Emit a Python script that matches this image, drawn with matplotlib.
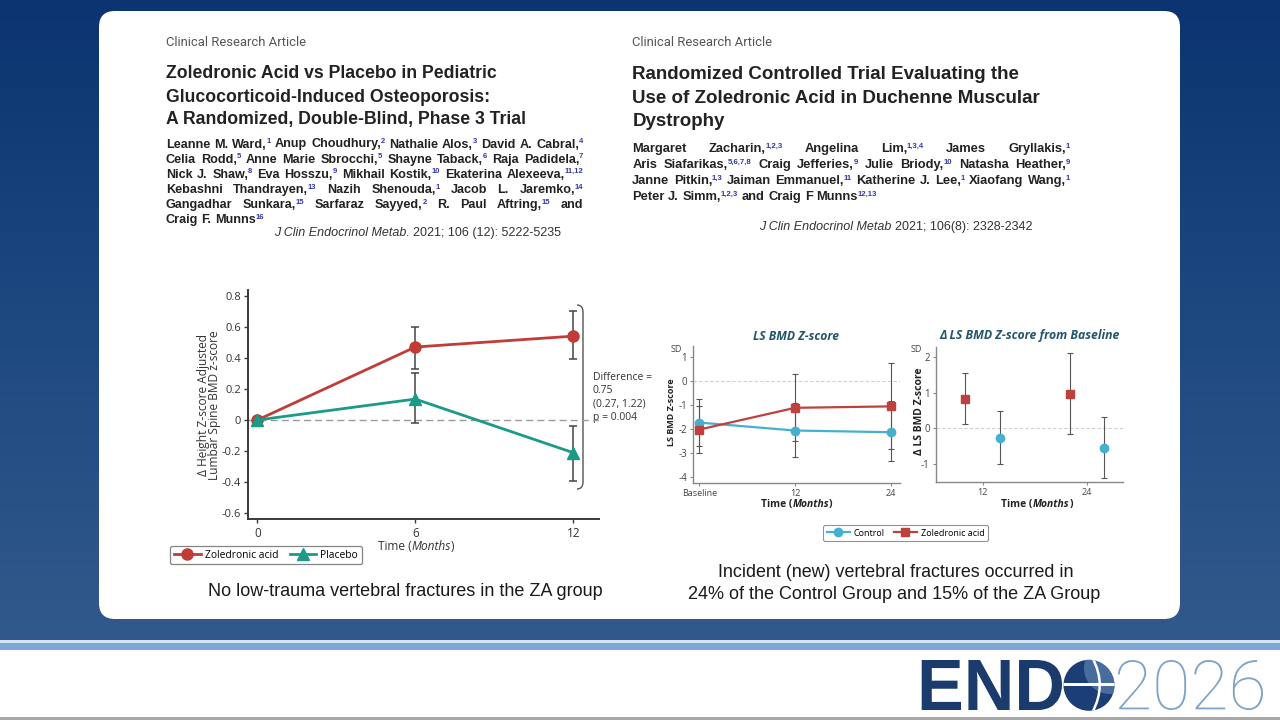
import numpy as np
import matplotlib
matplotlib.use('Agg')
import matplotlib.pyplot as plt
from matplotlib.patches import FancyBboxPatch, Circle, PathPatch, Rectangle
from matplotlib.path import Path
from matplotlib.textpath import TextPath
from matplotlib.font_manager import FontProperties
from matplotlib.transforms import Affine2D
from matplotlib.colors import LinearSegmentedColormap

plt.rcParams['font.family'] = ['Open Sans', 'DejaVu Sans']
plt.rcParams['axes.unicode_minus'] = False

# ---- Ward 2021 (left): change in height-adjusted LS BMD z-score ----
ward_months = np.array([0, 6, 12])
ward_za = np.array([0.0, 0.47, 0.54])
ward_za_lo = np.array([np.nan, 0.33, 0.39])
ward_za_hi = np.array([np.nan, 0.60, 0.70])
ward_pl = np.array([0.0, 0.135, -0.21])
ward_pl_lo = np.array([np.nan, -0.02, -0.39])
ward_pl_hi = np.array([np.nan, 0.30, -0.04])
ward_yticks = [-0.6, -0.4, -0.2, 0, 0.2, 0.4, 0.6, 0.8]
ward_yticklabels = ['-0.6', '-0.4', '-0.2', '0', '0.2', '0.4', '0.6', '0.8']
ward_diff = ['Difference =', '0.75', '(0.27, 1.22)', 'p = 0.004']

# ---- Zacharin 2021 (right): LS BMD z-score ----
z_months = np.array([0, 12, 24])
z_xticklabels = ['Baseline', '12', '24']
z_ctrl = np.array([-1.73, -2.06, -2.13])
z_ctrl_lo = np.array([-2.72, -3.15, -3.32])
z_ctrl_hi = np.array([-0.75, -0.94, -0.84])
z_za = np.array([-2.02, -1.12, -1.06])
z_za_lo = np.array([-3.01, -2.50, -2.82])
z_za_hi = np.array([-1.03, 0.30, 0.72])

# change from baseline
d_months = np.array([12, 24])
d_ctrl = np.array([-0.28, -0.56])
d_ctrl_lo = np.array([-1.00, -1.40])
d_ctrl_hi = np.array([0.47, 0.32])
d_za = np.array([0.81, 0.96])
d_za_lo = np.array([0.13, -0.17])
d_za_hi = np.array([1.54, 2.10])

ward_title = ['Zoledronic Acid vs Placebo in Pediatric',
              'Glucocorticoid-Induced Osteoporosis:',
              'A Randomized, Double-Blind, Phase 3 Trial']
ward_authors = [
    'Leanne M. Ward,^1 Anup Choudhury,^2 Nathalie Alos,^3 David A. Cabral,^4',
    'Celia Rodd,^5 Anne Marie Sbrocchi,^5 Shayne Taback,^6 Raja Padidela,^7',
    'Nick J. Shaw,^8 Eva Hosszu,^9 Mikhail Kostik,^10 Ekaterina Alexeeva,^11,12',
    'Kebashni Thandrayen,^13 Nazih Shenouda,^1 Jacob L. Jaremko,^14',
    'Gangadhar Sunkara,^15 Sarfaraz Sayyed,^2 R. Paul Aftring,^15 and',
    'Craig F. Munns^16',
]
zach_title = ['Randomized Controlled Trial Evaluating the',
              'Use of Zoledronic Acid in Duchenne Muscular',
              'Dystrophy']
zach_authors = [
    'Margaret Zacharin,^1,2,3 Angelina Lim,^1,3,4 James Gryllakis,^1',
    'Aris Siafarikas,^5,6,7,8 Craig Jefferies,^9 Julie Briody,^10 Natasha Heather,^9',
    'Janne Pitkin,^1,3 Jaiman Emmanuel,^11 Katherine J. Lee,^1 Xiaofang Wang,^1',
    'Peter J. Simm,^1,2,3 and Craig F Munns^12,13',
]

RED = '#c23c37'
TEAL = '#1b9a88'
CYAN = '#45b1cf'
RED2 = '#bf413d'
INK = '#333333'
HEAD = 'Liberation Sans'

fig = plt.figure(figsize=(12.8, 7.2), dpi=100)
renderer = fig.canvas.get_renderer()

# full-figure axes in pixel coordinates (y down)
bg = fig.add_axes([0, 0, 1, 1])
bg.axis('off')
cmap = LinearSegmentedColormap.from_list('slide', ['#0b3470', '#1d4880', '#32598b'])
bg.imshow(np.linspace(0, 1, 256)[:, None], extent=[0, 1280, 640, 0], cmap=cmap,
          aspect='auto', zorder=0)
bg.set_xlim(0, 1280)
bg.set_ylim(720, 0)
bg.add_patch(Rectangle((0, 640), 1280, 3, fc='#d5e5f3', ec='none', zorder=1))
bg.add_patch(Rectangle((0, 643), 1280, 7, fc='#7fa7d3', ec='none', zorder=1))
bg.add_patch(Rectangle((0, 650), 1280, 67, fc='white', ec='none', zorder=1))
bg.add_patch(Rectangle((0, 717), 1280, 3, fc='#a8a8a8', ec='none', zorder=1))
bg.add_patch(FancyBboxPatch((99, 11), 1081, 608, boxstyle='round,pad=0,rounding_size=16',
                            fc='white', ec='none', zorder=1))


def measure(s, **kw):
    t = bg.text(0, 0, s, **kw)
    w = t.get_window_extent(renderer).width
    t.remove()
    return w


def fit_size(s, width, **kw):
    return 10 * width / measure(s, fontsize=10, **kw)


def rich(x, y, pieces, size, ha='left', width=None, **common):
    # pieces: (text, extra kwargs); leading spaces become measured gaps
    sp = measure('a a', fontsize=size, **common) - measure('aa', fontsize=size, **common)
    items = []
    for s, kw in pieces:
        lead = len(s) - len(s.lstrip(' '))
        s = s.lstrip(' ')
        items.append((s, kw, lead * sp, measure(s, fontsize=size, **common, **kw)))
    total = sum(g + w for _, _, g, w in items)
    scale = width / total if width else 1.0
    size *= scale
    total *= scale
    x0 = x - total / 2 if ha == 'center' else x
    for s, kw, g, w in items:
        x0 += g * scale
        bg.text(x0, y, s, fontsize=size, va='baseline', ha='left', zorder=3, **common, **kw)
        x0 += w * scale


def authors(x0, x1, baselines, lines):
    akw = dict(family=HEAD, weight='bold')
    sup_ratio = 0.6

    def split(line, size):
        out = []
        for word in line.split(' '):
            name, _, sup = word.partition('^')
            wn = measure(name, fontsize=size, **akw)
            ws = measure(sup, fontsize=size * sup_ratio, **akw) if sup else 0
            out.append((name, sup, wn, ws))
        return out

    # font size chosen so the fullest justified line fits with plain spaces
    sp10 = measure('a a', fontsize=10, **akw) - measure('aa', fontsize=10, **akw)
    need = []
    for line in lines[:-1]:
        it = split(line, 10)
        need.append(sum(a[2] + a[3] for a in it) + sp10 * (len(it) - 1))
    size = 10 * (x1 - x0) / max(need) * 0.995
    sp = sp10 * size / 10
    for i, (line, y) in enumerate(zip(lines, baselines)):
        items = split(line, size)
        total = sum(a[2] + a[3] for a in items)
        last = i == len(lines) - 1
        gap = sp if last else (x1 - x0 - total) / (len(items) - 1)
        x = x0
        for name, sup, wn, ws in items:
            bg.text(x, y, name, fontsize=size, color='#222222', va='baseline', zorder=3, **akw)
            if sup:
                bg.text(x + wn - 0.3, y - size * 0.5, sup, fontsize=size * sup_ratio,
                        color='#3535a8', va='baseline', zorder=3, **akw)
            x += wn + ws + gap


def fitted_path(s, x0, x1, ytop, ybot, fp, color):
    p = TextPath((0, 0), s, size=100, prop=fp)
    e = p.get_extents()
    tr = (Affine2D().translate(-e.x0, -e.y0)
          .scale((x1 - x0) / e.width, -(ybot - ytop) / e.height)
          .translate(x0, ybot) + bg.transData)
    bg.add_patch(PathPatch(p, transform=tr, fc=color, ec='none', zorder=3))


# ---------------- headers ----------------
for x0 in (165.5, 632.3):
    s = fit_size('Clinical Research Article', 139, family='Roboto')
    bg.text(x0, 45.7, 'Clinical Research Article', fontsize=s, family='Roboto',
            color='#555555', va='baseline', zorder=3)

ts = fit_size(ward_title[0], 330, family=HEAD, weight='bold')
for line, y in zip(ward_title, [78.3, 101.5, 124.3]):
    bg.text(165.5, y, line, fontsize=ts, family=HEAD, weight='bold', color='#222222',
            va='baseline', zorder=3)
ts = fit_size(zach_title[0], 388, family=HEAD, weight='bold')
for line, y in zip(zach_title, [79.3, 102.6, 126.0]):
    bg.text(632.3, y, line, fontsize=ts, family=HEAD, weight='bold', color='#222222',
            va='baseline', zorder=3)

authors(165.7, 583.3, [147.5, 162.7, 177.9, 193.1, 208.3, 223.4], ward_authors)
authors(632.3, 1070.0, [152.3, 168.3, 184.3, 200.0], zach_authors)

rich(274, 235.7, [('J Clin Endocrinol Metab.', dict(style='italic')),
                  (' 2021; 106 (12): 5222-5235', {})], 9, width=287, family=HEAD, color=INK)
rich(759.3, 230.0, [('J Clin Endocrinol Metab', dict(style='italic')),
                    (' 2021; 106(8): 2328-2342', {})], 9, width=274, family=HEAD, color=INK)

# ---------------- left chart ----------------
ax1 = fig.add_axes([247.7 / 1280, 1 - 518.7 / 720, 351.6 / 1280, 228.7 / 720], zorder=2)
ax1.patch.set_alpha(0)
ax1.axhline(0, color='#9a9a9a', ls=(0, (5, 3)), lw=1, zorder=1)
for v, lo, hi in [(ward_za, ward_za_lo, ward_za_hi), (ward_pl, ward_pl_lo, ward_pl_hi)]:
    m = np.isfinite(lo)
    ax1.errorbar(ward_months[m], v[m], yerr=[v[m] - lo[m], hi[m] - v[m]], fmt='none',
                 ecolor='#444444', elinewidth=1.1, capsize=3, capthick=1.1, zorder=2)
l_za, = ax1.plot(ward_months, ward_za, color=RED, lw=2, marker='o', ms=8, zorder=3,
                 label='Zoledronic acid')
l_pl, = ax1.plot(ward_months, ward_pl, color=TEAL, lw=2, marker='^', ms=9, zorder=4,
                 label='Placebo')
ax1.set_xlim(-0.365, 12.99)
ax1.set_ylim(-0.635, 0.837)
ax1.set_xticks(ward_months)
ax1.set_yticks(ward_yticks)
ax1.set_yticklabels(ward_yticklabels)
for sp in ('top', 'right'):
    ax1.spines[sp].set_visible(False)
for sp in ('left', 'bottom'):
    ax1.spines[sp].set_color('#3a3a3a')
    ax1.spines[sp].set_linewidth(1.4)
ax1.tick_params(axis='x', length=3, width=1, color='#3a3a3a', labelsize=8.5,
                labelcolor=INK, pad=3)
ax1.tick_params(axis='y', length=3, width=1, color='#3a3a3a', labelsize=8,
                labelcolor=INK, pad=2)

yl = ['\u0394 Height Z-score Adjusted', 'Lumbar Spine BMD z-score']
ys = fit_size(yl[0], 143)
for line, x in zip(yl, [203.5, 214.5]):
    bg.text(x, 405, line, fontsize=ys, rotation=90, ha='center', va='center',
            color=INK, zorder=3)
rich(416, 550.5, [('Time (', {}), ('Months', dict(style='italic')), (')', {})], 9,
     ha='center', width=77, color=INK)

ds = fit_size(ward_diff[0], 59)
for line, y in zip(ward_diff, [380, 393.3, 406.6, 419.6]):
    bg.text(592.7, y, line, fontsize=ds, color=INK, va='baseline', zorder=3)
bracket = Path([(577, 305), (583, 305), (583, 312), (583, 482), (583, 489), (577, 489)],
               [Path.MOVETO, Path.CURVE3, Path.CURVE3, Path.LINETO, Path.CURVE3, Path.CURVE3])
bg.add_patch(PathPatch(bracket, fc='none', ec='#555555', lw=1, zorder=3))

leg1 = fig.legend(handles=[l_za, l_pl], loc='center', bbox_to_anchor=(266 / 1280, 1 - 555 / 720),
                  ncol=2, fontsize=7.4, frameon=True, fancybox=True, edgecolor='#666666',
                  handlelength=2.6, handletextpad=0.4, columnspacing=1.1, borderpad=0.35)
leg1.get_frame().set_linewidth(0.9)

# ---------------- right charts ----------------
def style_small(ax):
    ax.patch.set_alpha(0)
    for sp in ('top', 'right'):
        ax.spines[sp].set_visible(False)
    for sp in ('left', 'bottom'):
        ax.spines[sp].set_color('#888888')
        ax.spines[sp].set_linewidth(1)
    ax.tick_params(length=2.5, width=0.8, color='#888888', labelcolor='#444444', pad=2)
    ax.tick_params(axis='y', labelsize=7)
    ax.tick_params(axis='x', labelsize=6.5)
    ax.axhline(0, color='#cfcfcf', ls=(0, (3, 2)), lw=0.8, zorder=1)


ax2 = fig.add_axes([693.3 / 1280, 1 - 482.7 / 720, 206.7 / 1280, 136.7 / 720], zorder=2)
style_small(ax2)
for v, lo, hi in [(z_ctrl, z_ctrl_lo, z_ctrl_hi), (z_za, z_za_lo, z_za_hi)]:
    ax2.errorbar(z_months, v, yerr=[v - lo, hi - v], fmt='none', ecolor='#555555',
                 elinewidth=0.8, capsize=2, capthick=0.8, zorder=2)
l_c, = ax2.plot(z_months, z_ctrl, color=CYAN, lw=1.6, marker='o', ms=6, zorder=3,
                label='Control')
l_z, = ax2.plot(z_months, z_za, color=RED2, lw=1.6, marker='s', ms=5.5, zorder=4,
                label='Zoledronic acid')
ax2.set_xlim(-0.75, 25.17)
ax2.set_ylim(-4.22, 1.44)
ax2.set_xticks(z_months)
ax2.set_xticklabels(z_xticklabels)
ax2.set_yticks([-4, -3, -2, -1, 0, 1])

ax3 = fig.add_axes([936 / 1280, 1 - 482 / 720, 187.3 / 1280, 135.3 / 720], zorder=2)
style_small(ax3)
for x, v, lo, hi, c, mk in [(d_months - 2, d_za, d_za_lo, d_za_hi, RED2, 's'),
                            (d_months + 2, d_ctrl, d_ctrl_lo, d_ctrl_hi, CYAN, 'o')]:
    ax3.errorbar(x, v, yerr=[v - lo, hi - v], fmt='none', ecolor='#555555',
                 elinewidth=0.8, capsize=2, capthick=0.8, zorder=2)
    ax3.plot(x, v, ls='none', marker=mk, color=c, ms=6 if mk == 'o' else 5.5, zorder=3)
ax3.set_xlim(6.61, 28.2)
ax3.set_ylim(-1.5, 2.28)
ax3.set_xticks(d_months)
ax3.set_yticks([-1, 0, 1, 2])

TITLE_C = '#24566c'
rich(796.7, 339.5, [('LS BMD Z-score', {})], 9, ha='center', width=86.7,
     color=TITLE_C, weight='bold', style='italic')
rich(1029.7, 339.5, [('\u0394 LS BMD Z-score from Baseline', {})], 9, ha='center',
     width=181, color=TITLE_C, weight='bold', style='italic')
for x in (676, 916.7):
    bg.text(x, 352, 'SD', fontsize=6.5, color='#444444', ha='center', va='baseline', zorder=3)
s2 = fit_size('LS BMD Z-score', 68, weight='bold')
bg.text(671.7, 412, 'LS BMD Z-score', fontsize=s2, weight='bold', rotation=90,
        ha='center', va='center', color='#222222', zorder=3)
s3 = fit_size('\u0394 LS BMD Z-score', 88, weight='bold')
bg.text(920, 411, '\u0394 LS BMD Z-score', fontsize=s3, weight='bold', rotation=90,
        ha='center', va='center', color='#222222', zorder=3)
for xc in (796.7, 1037.3):
    rich(xc, 507.3, [('Time (', {}), ('Months', dict(style='italic')), (')', {})], 8,
         ha='center', width=72, color='#222222', weight='bold')

leg2 = fig.legend(handles=[l_c, l_z], loc='center', bbox_to_anchor=(905.5 / 1280, 1 - 533 / 720),
                  ncol=2, fontsize=6.5, frameon=True, fancybox=True, edgecolor='#777777',
                  handlelength=2.6, handletextpad=0.4, columnspacing=1.0, borderpad=0.35)
leg2.get_frame().set_linewidth(0.8)

# ---------------- captions ----------------
rich(406, 595.5, [('No low-trauma vertebral fractures in the ZA group', {})], 12,
     ha='center', width=396, family=HEAD, color='#1a1a1a')
rich(896, 577.3, [('Incident (new) vertebral fractures occurred in', {})], 12,
     ha='center', width=357, family=HEAD, color='#1a1a1a')
rich(895, 599.0, [('24% of the Control Group and 15% of the ZA Group', {})], 12,
     ha='center', width=414, family=HEAD, color='#1a1a1a')

# ---------------- ENDO 2026 logo ----------------
fitted_path('END', 921.7, 1062, 660, 710, FontProperties(family=HEAD, weight='bold'), '#1b3b6d')
globe = Circle((1089, 685.3), 25.5, fc='#1c3e76', ec='none', zorder=3)
bg.add_patch(globe)
shade = Circle((1110, 668), 26, fc='#6b93c0', ec='none', alpha=0.55, zorder=3)
bg.add_patch(shade)
shade.set_clip_path(globe)
band = Rectangle((1060, 682.6), 60, 3.4, fc='white', ec='none', zorder=4)
bg.add_patch(band)
band.set_clip_path(globe)
mer = PathPatch(Path([(1092.5, 658), (1107, 685), (1092.5, 712)],
                     [Path.MOVETO, Path.CURVE3, Path.CURVE3]),
                fc='none', ec='white', lw=1.8, zorder=4)
bg.add_patch(mer)
mer.set_clip_path(globe)
fitted_path('2026', 1118, 1263, 660, 710, FontProperties(family='Roboto', weight='light'),
            '#7ea3c6')

fig.savefig('out.png', dpi=100)
